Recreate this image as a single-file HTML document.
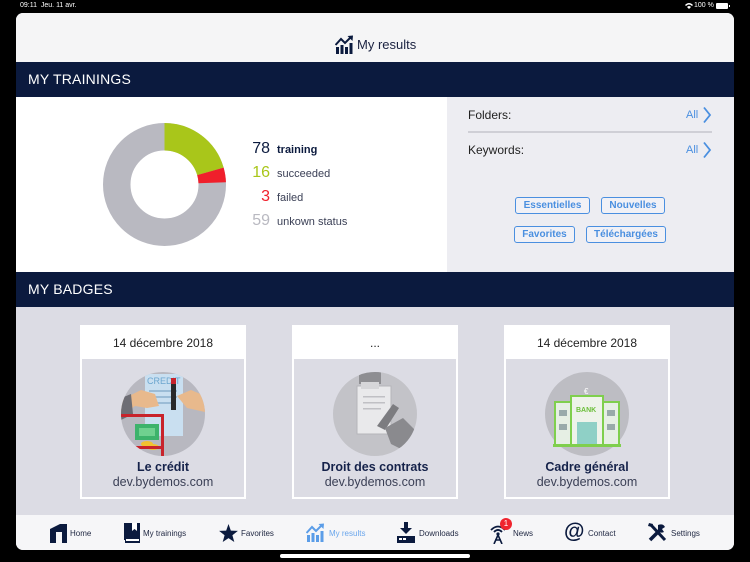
<!DOCTYPE html>
<html><head><meta charset="utf-8">
<style>
*{margin:0;padding:0;box-sizing:border-box}
html,body{width:750px;height:562px;background:#000;overflow:hidden;font-family:"Liberation Sans",sans-serif}
.abs{position:absolute}
#panel{position:absolute;left:16px;top:13px;width:718px;height:537px;background:#dcdce4;border-radius:7px;overflow:hidden}
.navy{background:#0b1a3e;color:#fff;font-size:14px;letter-spacing:0.2px}
.t{position:absolute;white-space:nowrap}
.tag{position:absolute;height:17px;border:1.5px solid #4a8fe0;border-radius:3px;color:#4a8fe0;font-size:10px;font-weight:bold;background:#f1f1f6;display:flex;align-items:center;justify-content:center;line-height:10px}
.card{position:absolute;top:312px;width:166px;height:174px;border:2px solid #fff;background:#dcdce4}
.card .hd{position:absolute;left:0;top:0;width:100%;height:32px;background:#fff;text-align:center;font-size:12px;line-height:32px;color:#222}
.card .ti{position:absolute;left:0;width:100%;top:133px;text-align:center;font-size:12.5px;font-weight:bold;color:#15224a}
.card .su{position:absolute;left:0;width:100%;top:148px;text-align:center;font-size:12.5px;color:#3a3f55}
.tab{position:absolute;top:529px;font-size:8px;color:#1d2540}
</style></head><body>
<!-- status bar -->
<div class="t" style="left:20px;top:2px;color:#fff;font-size:7px">09:11&nbsp;&nbsp;Jeu. 11 avr.</div>
<div class="t" style="left:694px;top:2px;color:#fff;font-size:7px">100 %</div>
<svg class="abs" style="left:684px;top:2px" width="10" height="8"><path d="M1 3 Q5 -1 9 3 L8 4 Q5 1 2 4Z M3 5 Q5 3 7 5 L5 7Z" fill="#fff"/></svg>
<div class="abs" style="left:716px;top:3px;width:12px;height:6px;background:#fff;border-radius:1px"></div>
<div class="abs" style="left:729px;top:5px;width:1px;height:2px;background:#fff"></div>

<div id="panel">
  <!-- header -->
  <div class="abs" style="left:0;top:0;width:718px;height:49px;background:#f5f5f6"></div>
  <svg class="abs" style="left:319px;top:22px" width="19" height="19" viewBox="0 0 19 19">
    <rect x="1" y="12" width="3" height="7" fill="#0b1a3e"/><rect x="5.5" y="10" width="3" height="9" fill="#0b1a3e"/><rect x="10" y="12" width="3" height="7" fill="#0b1a3e"/><rect x="14.5" y="8" width="3" height="11" fill="#0b1a3e"/>
    <path d="M0.5 10 L6 4 L10 8 L15.5 2.5" stroke="#0b1a3e" stroke-width="2" fill="none"/><path d="M12.5 1 L18 0.5 L17.5 6Z" fill="#0b1a3e"/>
  </svg>
  <div class="t" style="left:341px;top:24px;font-size:13px;color:#1a2140">My results</div>

  <div class="abs navy" style="left:0;top:49px;width:718px;height:35px"><div class="t" style="left:12px;top:9px">MY TRAININGS</div></div>

  <!-- trainings -->
  <div class="abs" style="left:0;top:84px;width:431px;height:175px;background:#fff"></div>
  <div class="abs" style="left:431px;top:84px;width:287px;height:175px;background:#ededf2"></div>
  <svg class="abs" style="left:0;top:84px" width="431" height="175">
    <g transform="translate(148.5,87.5) rotate(-90)">
      <circle r="47.75" fill="none" stroke="#b9b9c1" stroke-width="27.5"/>
      <circle r="47.75" fill="none" stroke="#a9c61a" stroke-width="27.5" stroke-dasharray="61.54 400"/>
      <circle r="47.75" fill="none" stroke="#f01f2b" stroke-width="27.5" stroke-dasharray="0 61.54 11.54 400"/>
    </g>
  </svg>
  <div class="t" style="left:224px;top:127px;width:30px;text-align:right;font-size:16px;color:#0b1a3e">78</div>
  <div class="t" style="left:261px;top:131px;font-size:11px;font-weight:bold;color:#0b1a3e">training</div>
  <div class="t" style="left:224px;top:151px;width:30px;text-align:right;font-size:16px;color:#a9c61a">16</div>
  <div class="t" style="left:261px;top:155px;font-size:11px;color:#3a3f55">succeeded</div>
  <div class="t" style="left:224px;top:175px;width:30px;text-align:right;font-size:16px;color:#f01f2b">3</div>
  <div class="t" style="left:261px;top:179px;font-size:11px;color:#3a3f55">failed</div>
  <div class="t" style="left:224px;top:199px;width:30px;text-align:right;font-size:16px;color:#b9b9c1">59</div>
  <div class="t" style="left:261px;top:203px;font-size:11px;color:#3a3f55">unkown status</div>

  <div class="t" style="left:452px;top:95px;font-size:12px;color:#222">Folders:</div>
  <div class="t" style="left:670px;top:96px;font-size:11px;color:#4a8fe0">All</div>
  <svg class="abs" style="left:686px;top:93px" width="10" height="18"><path d="M2 1.5 L8 9 L2 16.5" stroke="#4a8fe0" stroke-width="1.8" fill="none"/></svg>
  <div class="abs" style="left:452px;top:118px;width:244px;height:1.5px;background:#cfcfd6"></div>
  <div class="t" style="left:452px;top:130px;font-size:12px;color:#222">Keywords:</div>
  <div class="t" style="left:670px;top:131px;font-size:11px;color:#4a8fe0">All</div>
  <svg class="abs" style="left:686px;top:128px" width="10" height="18"><path d="M2 1.5 L8 9 L2 16.5" stroke="#4a8fe0" stroke-width="1.8" fill="none"/></svg>

  <div class="tag" style="left:499px;top:184px;width:75px">Essentielles</div>
  <div class="tag" style="left:585px;top:184px;width:64px">Nouvelles</div>
  <div class="tag" style="left:498px;top:213px;width:61px">Favorites</div>
  <div class="tag" style="left:570px;top:213px;width:80px">Téléchargées</div>

  <div class="abs navy" style="left:0;top:259px;width:718px;height:35px"><div class="t" style="left:12px;top:9px">MY BADGES</div></div>

  <!-- badges -->
  <div class="card" style="left:64px">
    <div class="hd">14 décembre 2018</div>
    <svg class="abs" style="left:39px;top:45px" width="84" height="84" viewBox="0 0 84 84">
      <defs><clipPath id="c1"><circle cx="42" cy="42" r="42"/></clipPath></defs>
      <circle cx="42" cy="42" r="42" fill="#b8b8c0"/>
      <g clip-path="url(#c1)">
        <rect x="24" y="2" width="38" height="62" fill="#c9dff0"/>
        <text x="26" y="12" font-size="9" fill="#6ca6cf" font-family="Liberation Sans">CREDIT</text>
        <rect x="28" y="18" width="28" height="2" fill="#9bbcd6"/><rect x="28" y="24" width="28" height="2" fill="#9bbcd6"/><rect x="28" y="30" width="24" height="2" fill="#9bbcd6"/>
        <path d="M0 28 L20 18 L34 22 L38 34 L26 36 L14 34 L0 44Z" fill="#e8b98c"/>
        <path d="M0 26 L10 22 L12 42 L0 48Z" fill="#6d6d74"/>
        <path d="M56 24 L70 18 L84 24 L84 40 L66 36 Z" fill="#e8b98c"/>
        <rect x="50" y="8" width="5" height="30" fill="#2a2a2a"/><rect x="50" y="6" width="5" height="6" fill="#c8232b"/>
        <rect x="0" y="42" width="42" height="3" fill="#c8232b"/><rect x="40" y="42" width="3" height="45" fill="#c8232b"/>
        <rect x="14" y="52" width="24" height="16" fill="#3db36b"/><rect x="18" y="56" width="16" height="8" fill="#6fd18f"/>
        <ellipse cx="26" cy="72" rx="6" ry="3" fill="#f2c230"/><ellipse cx="32" cy="75" rx="6" ry="3" fill="#f2c230"/>
        <rect x="0" y="74" width="42" height="3" fill="#c8232b"/>
      </g>
    </svg>
    <div class="ti">Le crédit</div>
    <div class="su">dev.bydemos.com</div>
  </div>

  <div class="card" style="left:276px">
    <div class="hd">...</div>
    <svg class="abs" style="left:39px;top:45px" width="84" height="84" viewBox="0 0 84 84">
      <defs><clipPath id="c2"><circle cx="42" cy="42" r="42"/></clipPath></defs>
      <circle cx="42" cy="42" r="42" fill="#c3c3c8"/>
      <g clip-path="url(#c2)">
        <rect x="26" y="0" width="22" height="12" fill="#8e8e92"/>
        <rect x="24" y="14" width="34" height="48" fill="#e9e9eb" stroke="#b5b5ba"/>
        <rect x="28" y="10" width="18" height="7" fill="#d6d6d9"/>
        <rect x="30" y="24" width="22" height="1.5" fill="#c0c0c4"/><rect x="30" y="30" width="22" height="1.5" fill="#c0c0c4"/><rect x="30" y="36" width="18" height="1.5" fill="#c0c0c4"/>
        <path d="M44 54 L60 32 L66 36 L52 58Z" fill="#7c7c80"/>
        <path d="M52 56 L70 46 L84 60 L74 80 L58 72Z" fill="#8a8a8e"/>
      </g>
    </svg>
    <div class="ti">Droit des contrats</div>
    <div class="su">dev.bydemos.com</div>
  </div>

  <div class="card" style="left:488px">
    <div class="hd">14 décembre 2018</div>
    <svg class="abs" style="left:39px;top:45px" width="84" height="84" viewBox="0 0 84 84">
      <circle cx="42" cy="42" r="42" fill="#bdbdc3"/>
      <text x="39" y="22" font-size="8" fill="#fff" font-family="Liberation Sans">€</text>
      <rect x="10" y="30" width="64" height="44" fill="#e6efe4" stroke="#7fcf4d" stroke-width="2"/>
      <rect x="26" y="24" width="32" height="50" fill="#eef3ea" stroke="#7fcf4d" stroke-width="2"/>
      <text x="31" y="40" font-size="7" font-weight="bold" fill="#6bbf3a" font-family="Liberation Sans">BANK</text>
      <rect x="32" y="50" width="20" height="24" fill="#8fd0c6"/>
      <rect x="14" y="38" width="8" height="6" fill="#9aa"/><rect x="62" y="38" width="8" height="6" fill="#9aa"/>
      <rect x="14" y="52" width="8" height="6" fill="#9aa"/><rect x="62" y="52" width="8" height="6" fill="#9aa"/>
      <rect x="8" y="72" width="68" height="3" fill="#7fcf4d"/>
    </svg>
    <div class="ti">Cadre général</div>
    <div class="su">dev.bydemos.com</div>
  </div>

  <!-- tab bar -->
  <div class="abs" style="left:0;top:502px;width:718px;height:35px;background:#f6f6f8"></div>
</div>

<!-- tab icons -->
<svg class="abs" style="left:50px;top:524px" width="17" height="19"><path d="M0 5 L10 0 L17 0 L17 19 L12 19 L12 8 L6 8 L6 19 L0 19Z" fill="#0b1a3e"/></svg>
<div class="tab" style="left:70px">Home</div>
<svg class="abs" style="left:124px;top:523px" width="16" height="20"><rect x="0" y="0" width="16" height="17" fill="#0b1a3e"/><rect x="1" y="17" width="15" height="3" fill="#0b1a3e"/><rect x="2" y="16" width="13" height="2" fill="#fff"/><path d="M8 0 L13 0 L13 8 L10.5 6 L8 8Z" fill="#fff"/></svg>
<div class="tab" style="left:143px">My trainings</div>
<svg class="abs" style="left:219px;top:524px" width="19" height="18" viewBox="0 0 24 23"><path d="M12 0 L15 8.5 L24 8.8 L17 14.3 L19.4 23 L12 18 L4.6 23 L7 14.3 L0 8.8 L9 8.5Z" fill="#0b1a3e"/></svg>
<div class="tab" style="left:241px">Favorites</div>
<svg class="abs" style="left:306px;top:523px" width="19" height="19" viewBox="0 0 19 19">
  <rect x="1" y="12" width="3" height="7" fill="#5b9de8"/><rect x="5.5" y="10" width="3" height="9" fill="#5b9de8"/><rect x="10" y="12" width="3" height="7" fill="#5b9de8"/><rect x="14.5" y="8" width="3" height="11" fill="#5b9de8"/>
  <path d="M0.5 10 L6 4 L10 8 L15.5 2.5" stroke="#5b9de8" stroke-width="2" fill="none"/><path d="M12.5 1 L18 0.5 L17.5 6Z" fill="#5b9de8"/></svg>
<div class="tab" style="left:329px;color:#6aa6ec">My results</div>
<svg class="abs" style="left:397px;top:522px" width="18" height="21"><rect x="7" y="0" width="4" height="7" fill="#0b1a3e"/><path d="M3 6 L15 6 L9 12Z" fill="#0b1a3e"/><rect x="0" y="14" width="18" height="7" fill="#0b1a3e"/><rect x="2" y="16" width="3" height="2" fill="#fff"/><rect x="6" y="16" width="3" height="2" fill="#fff"/></svg>
<div class="tab" style="left:419px">Downloads</div>
<svg class="abs" style="left:490px;top:524px" width="16" height="20"><path d="M1 6 Q8 -1 15 6" stroke="#0b1a3e" stroke-width="1.8" fill="none"/><path d="M4 8 Q8 4 12 8" stroke="#0b1a3e" stroke-width="1.8" fill="none"/><circle cx="8" cy="10" r="1.6" fill="#0b1a3e"/><path d="M8 11 L4 20 M8 11 L12 20 M5 16 L11 16" stroke="#0b1a3e" stroke-width="1.6"/></svg>
<div class="abs" style="left:500px;top:518px;width:12px;height:12px;border-radius:6px;background:#f0242e;color:#fff;font-size:8px;text-align:center;line-height:12px">1</div>
<div class="tab" style="left:513px">News</div>
<div class="t" style="left:564px;top:520px;font-size:21px;font-weight:bold;color:#0b1a3e;line-height:24px">@</div>
<div class="tab" style="left:588px">Contact</div>
<svg class="abs" style="left:648px;top:523px" width="19" height="19"><path d="M2 17 L12 7" stroke="#0b1a3e" stroke-width="3.5"/><path d="M10 2 Q15 0 17 4 L14 6 L16 9 Q12 11 10 7Z" fill="#0b1a3e"/><path d="M3 2 L17 17" stroke="#0b1a3e" stroke-width="3"/><path d="M1 0 L5 1 L4 4 L0 3Z" fill="#0b1a3e"/></svg>
<div class="tab" style="left:671px">Settings</div>

<div class="abs" style="left:280px;top:554px;width:190px;height:4px;background:#fff;border-radius:2px"></div>
</body></html>
